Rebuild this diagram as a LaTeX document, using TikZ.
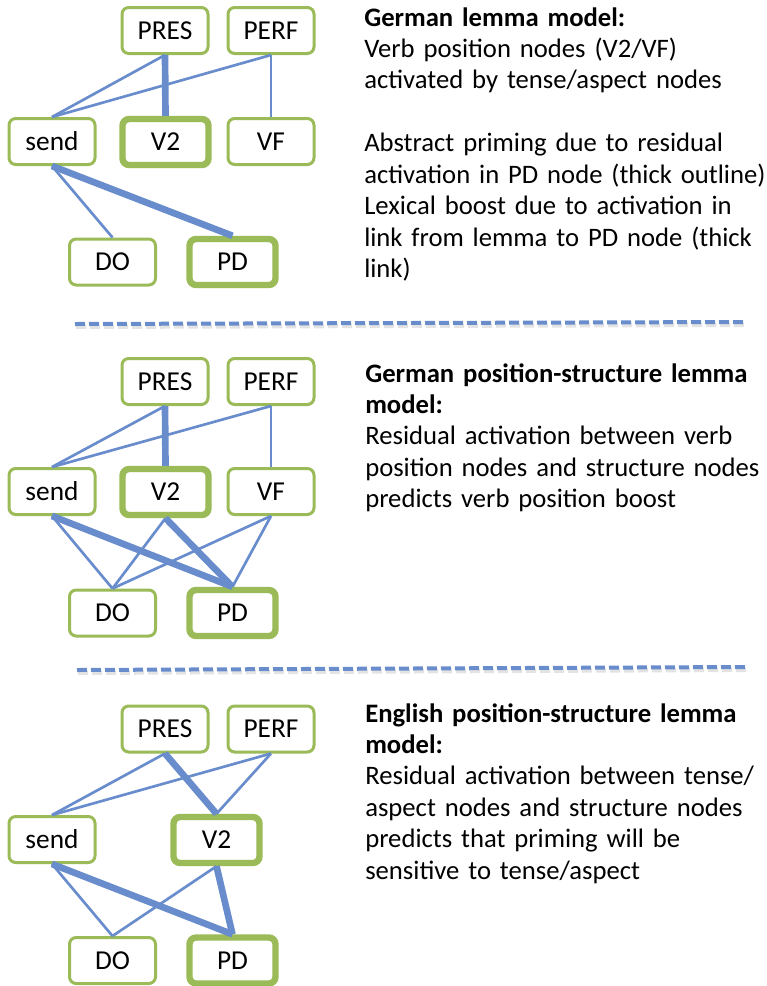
\documentclass[tikz,border=0pt]{standalone}
\usepackage{fontspec}
\setmainfont{Carlito}
\usepackage{xcolor}
\usepackage{tikz}

\definecolor{boxgreen}{RGB}{155,187,89}
\definecolor{linkblue}{RGB}{104,140,204}
\tikzset{
  box/.style={draw=boxgreen, fill=white, rectangle, rounded corners=5pt, line width=2.25pt,
    minimum width=64.5pt, minimum height=34.5pt, inner sep=0pt, font=\fontsize{20.5}{24}\selectfont},
  hot/.style={box, line width=4.8pt},
  link/.style={draw=linkblue, line width=2pt},
  boost/.style={draw=linkblue, line width=5pt},
  note/.style={anchor=base west, inner sep=0pt, align=left, text width=320pt,
    font=\fontsize{20}{23.6}\selectfont},
  sep/.style={draw=linkblue, line width=3pt, dash pattern=on 7.5pt off 3pt},
  sepshadow/.style={draw=gray!22, line width=3pt, dash pattern=on 7.5pt off 3pt},
}

\begin{document}
\begin{tikzpicture}[x=0.75pt,y=0.75pt,yscale=-1,xscale=1]
\useasboundingbox (0,0) rectangle (767,986);

% Lemma model
\node [box] (pres1) at (165,30.5) {PRES};
\node [box] (perf1) at (271,30.5) {PERF};
\node [box] (send1) at (52,141.5) {send};
\node [hot] (vtwo1) at (165.5,142) {V2};
\node [box] (vf1) at (271,141.5) {VF};
\node [box] (do1) at (112.5,262) {DO};
\node [hot] (pd1) at (232.5,262) {PD};

\draw [link] (pres1.south) -- (send1.north);
\draw [boost] (pres1.south) -- (vtwo1.north);
\draw [link] (perf1.south) -- (send1.north);
\draw [link] (perf1.south) -- (vf1.north);
\draw [link] (send1.south) -- (do1.north);
\draw [boost] (send1.south) -- (pd1.north);

\node [note] (note1) at (364,26) {\textbf{German lemma model:}\\
Verb position nodes (V2/VF)\\
activated by tense/aspect nodes\\[23.6pt]
Abstract priming due to residual\\
activation in PD node (thick outline)\\
Lexical boost due to activation in\\
link from lemma to PD node (thick\\
link)};

% Separator
\draw [sepshadow] (76,327) -- (746,325);
\draw [sep] (75,324) -- (745,322);

% Position-structure lemma model (German)
\node [box] (pres2) at (165,381.5) {PRES};
\node [box] (perf2) at (271,381.5) {PERF};
\node [box] (send2) at (52,491.5) {send};
\node [hot] (vtwo2) at (165.5,492) {V2};
\node [box] (vf2) at (271,491.5) {VF};
\node [box] (do2) at (112.5,613) {DO};
\node [hot] (pd2) at (232.5,613) {PD};

\draw [link] (pres2.south) -- (send2.north);
\draw [boost] (pres2.south) -- (vtwo2.north);
\draw [link] (perf2.south) -- (send2.north);
\draw [link] (perf2.south) -- (vf2.north);
\draw [link] (send2.south) -- (do2.north);
\draw [boost] (send2.south) -- (pd2.north);
\draw [link] (vtwo2.south) -- (do2.north);
\draw [boost] (vtwo2.south) -- (pd2.north);
\draw [link] (vf2.south) -- (do2.north);
\draw [link] (vf2.south) -- (pd2.north);

\node [note] (note2) at (365,382) {\textbf{German position-structure lemma}\\
\textbf{model:}\\
Residual activation between verb\\
position nodes and structure nodes\\
predicts verb position boost};

% Separator
\draw [sepshadow] (78,673) -- (748,670);
\draw [sep] (77,670) -- (747,667);

% Position-structure lemma model (English)
\node [box] (pres3) at (165,729) {PRES};
\node [box] (perf3) at (271,729) {PERF};
\node [box] (send3) at (52,839.5) {send};
\node [hot] (vtwo3) at (216.5,840) {V2};
\node [box] (do3) at (112.5,960.5) {DO};
\node [hot] (pd3) at (232.5,960.5) {PD};

\draw [link] (pres3.south) -- (send3.north);
\draw [boost] (pres3.south) -- (vtwo3.north);
\draw [link] (perf3.south) -- (send3.north);
\draw [link] (perf3.south) -- (vtwo3.north);
\draw [link] (send3.south) -- (do3.north);
\draw [boost] (send3.south) -- (pd3.north);
\draw [link] (vtwo3.south) -- (do3.north);
\draw [boost] (vtwo3.south) -- (pd3.north);

\node [note] (note3) at (365,722) {\textbf{English position-structure lemma}\\
\textbf{model:}\\
Residual activation between tense/\\
aspect nodes and structure nodes\\
predicts that priming will be\\
sensitive to tense/aspect};
\end{tikzpicture}
\end{document}
